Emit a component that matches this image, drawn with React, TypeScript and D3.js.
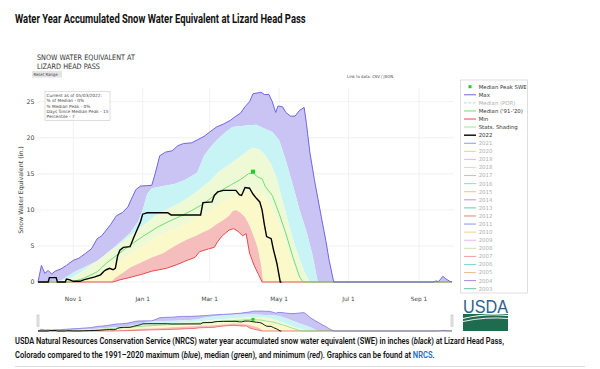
import React, { useLayoutEffect, useRef, useState } from 'react';
import * as d3 from 'd3';

type Pt = [number, number];

// day of water year (0 = Oct 1, 2021), snow water equivalent in inches
const maxSwe: Pt[] = [
  [0, 0], [3, 2.3], [6, 1.2], [9, 1.6], [12, 1.1], [15, 1.5], [20, 1.8], [25, 2.3], [31, 3.0],
  [36, 3.3], [42, 4.0], [47, 4.6], [52, 6.0], [56, 6.4], [60, 7.2], [64, 8.0], [69, 9.2], [74, 9.6],
  [79, 10.4], [83, 11.8], [86, 12.8], [90, 13.3], [100, 13.4], [103, 15.0], [107, 17.5], [112, 18.0],
  [118, 18.2], [123, 18.9], [128, 19.2], [135, 19.3], [140, 19.7], [146, 20.2], [151, 20.8], [157, 21.5],
  [163, 21.9], [169, 22.4], [174, 23.0], [178, 23.4], [182, 24.3], [186, 25.0], [189, 26.1], [196, 26.3],
  [199, 26.0], [203, 26.0], [206, 25.0], [209, 23.5], [211, 24.4], [215, 24.3], [218, 23.5], [222, 23.0],
  [226, 23.0], [230, 23.8], [234, 24.2], [236, 22.0], [239, 18.0], [243, 14.2], [249, 9.1], [253, 5.8],
  [256, 3.0], [260, 0], [348, 0], [350, 0.15], [352, 0.05], [354, 0.4], [356, 0.8], [358, 0.5],
  [360, 0.3], [362, 0.1], [364, 0],
];

const p90Swe: Pt[] = [
  [0, 0], [20, 0.2], [31, 1.3], [40, 2.0], [52, 2.9], [60, 3.9], [69, 5.1], [81, 6.8], [88, 8.4],
  [92, 10.0], [96, 12.2], [100, 13.0], [110, 13.3], [120, 13.6], [130, 14.2], [140, 15.2], [146, 17.5],
  [152, 18.8], [158, 19.8], [165, 20.8], [171, 21.5], [183, 21.7], [192, 21.8], [200, 21.2], [206, 20.8],
  [212, 19.7], [218, 16.8], [224, 13.5], [230, 10.0], [236, 7.0], [241, 4.0], [246, 0], [364, 0],
];

const p70Swe: Pt[] = [
  [0, 0], [20, 0.1], [31, 0.7], [40, 1.6], [52, 2.9], [60, 3.9], [70, 5.0], [80, 6.3], [92, 7.8],
  [105, 9.4], [115, 10.2], [125, 11.0], [135, 12.0], [145, 13.2], [151, 14.0], [160, 15.4], [170, 16.5],
  [180, 17.6], [188, 18.6], [195, 18.4], [200, 17.5], [205, 16.3], [210, 14.3], [214, 11.8], [218, 9.5],
  [222, 7.2], [226, 5.0], [230, 3.2], [234, 1.5], [239, 0], [364, 0],
];

const p30Swe: Pt[] = [
  [0, 0], [30, 0], [40, 0.2], [52, 0.9], [60, 1.8], [70, 2.8], [80, 3.8], [92, 5.0], [105, 6.3],
  [115, 7.0], [125, 7.7], [135, 8.5], [145, 9.4], [151, 10.0], [160, 10.9], [170, 11.7], [178, 12.3],
  [185, 12.8], [192, 12.6], [198, 12.0], [204, 10.8], [209, 9.2], [213, 7.6], [217, 5.8], [221, 3.8],
  [225, 2.0], [229, 0.6], [232, 0], [364, 0],
];

const p10Swe: Pt[] = [
  [0, 0], [64, 0], [68, 0.6], [75, 1.3], [81, 2.0], [92, 2.8], [100, 3.4], [110, 4.0], [118, 4.8],
  [125, 5.4], [131, 5.9], [139, 6.4], [145, 6.9], [151, 7.3], [157, 8.0], [163, 8.6], [168, 9.2],
  [171, 9.8], [174, 10.0], [178, 9.6], [182, 9.0], [186, 7.8], [190, 6.2], [193, 4.8], [196, 2.5],
  [198, 0], [364, 0],
];

const minSwe: Pt[] = [
  [0, 0], [66, 0], [72, 0.3], [80, 0.6], [92, 1.1], [100, 1.5], [113, 1.9], [122, 2.4], [131, 3.0],
  [138, 3.4], [142, 4.2], [150, 4.6], [155, 4.8], [158, 5.6], [162, 6.4], [168, 7.2], [172, 7.4],
  [176, 7.0], [180, 6.4], [183, 6.7], [186, 4.0], [190, 2.3], [194, 1.0], [197, 0], [364, 0],
];

const medianSwe: Pt[] = [
  [0, 0], [30, 0], [40, 0.5], [52, 1.4], [60, 2.6], [70, 3.8], [80, 5.0], [92, 6.3], [105, 7.6],
  [115, 8.4], [125, 9.1], [135, 9.9], [145, 10.8], [151, 11.5], [160, 12.6], [170, 13.5], [178, 14.2],
  [185, 15.0], [189, 15.1], [193, 14.6], [197, 14.3], [200, 13.2], [206, 12.0], [212, 9.5], [218, 6.7],
  [224, 3.5], [230, 0.7], [233, 0], [364, 0],
];

const swe2022: Pt[] = [
  [0, 0], [9, 0], [10, 0.6], [16, 0.6], [17, 0], [24, 0], [25, 0.4], [28, 0.3], [31, 0.1], [37, 0.1],
  [40, 0.3], [45, 0.5], [50, 0.7], [55, 1.0], [58, 1.5], [60, 1.7], [63, 1.9], [66, 1.7], [68, 1.9],
  [70, 3.6], [72, 4.4], [75, 4.8], [81, 4.9], [84, 6.1], [87, 7.2], [90, 8.3], [92, 9.4], [96, 9.6],
  [114, 9.6], [117, 9.3], [143, 9.3], [145, 11.0], [153, 11.1], [155, 12.0], [158, 12.5], [163, 12.7],
  [174, 12.7], [177, 12.1], [179, 12.0], [182, 13.1], [186, 13.0], [189, 12.2], [192, 11.6], [195, 11.1],
  [197, 10.0], [199, 8.0], [201, 6.3], [205, 6.0], [207, 4.5], [210, 2.6], [213, 0], [214, 0],
];

const medianPeak: Pt = [189, 15.3];

const tickDates = ['2021-11-01', '2022-01-01', '2022-03-01', '2022-05-01', '2022-07-01', '2022-09-01'];
const tickLabels = ['Nov 1', 'Jan 1', 'Mar 1', 'May 1', 'Jul 1', 'Sep 1'];
const yTicks = [0, 5, 10, 15, 20, 25];

const infoLines = [
  'Current as of 05/03/2022:',
  '% of Median - 0%',
  '% Median Peak - 0%',
  'Days Since Median Peak - 15',
  'Percentile - 7',
];

const legendLabels = [
  'Median Peak SWE', 'Max', 'Median (POR)', "Median ('91-'20)", 'Min', 'Stats. Shading', '2022',
  '2021', '2020', '2019', '2018', '2017', '2016', '2015', '2014', '2013', '2012', '2011', '2010',
  '2009', '2008', '2007', '2006', '2005', '2004', '2003',
];
const legendHidden = ['Median (POR)', '2021', '2020', '2019', '2018', '2017', '2016', '2015', '2014',
  '2013', '2012', '2011', '2010', '2009', '2008', '2007', '2006', '2005', '2004', '2003'];

const legendColors: Record<string, string> = {
  'Median Peak SWE': '#22cc22', Max: '#6f67e0', 'Median (POR)': '#a8e8a8', "Median ('91-'20)": '#72de72',
  Min: '#e64c4c', 'Stats. Shading': '#cdf3c8', '2022': '#000',
  '2021': '#8f95ea', '2020': '#f6cd8c', '2019': '#f2b0ea', '2018': '#cfe7b0', '2017': '#f2a8ae',
  '2016': '#7fdcdc', '2015': '#f5b98a', '2014': '#bb92ea', '2013': '#6ccba6', '2012': '#ea7e7e',
  '2011': '#8499f0', '2010': '#f2cf80', '2009': '#f2b2f0', '2008': '#c8e4a8', '2007': '#f29a9a',
  '2006': '#7fd6dc', '2005': '#f3bb8c', '2004': '#ae86e6', '2003': '#62c39e',
};

const fills = {
  lav: '#c9c4f4', cyan: '#c9f4f5', green: '#eef9d6', yellow: '#fbf8c9', pink: '#f6bdbd',
};

const start = new Date(2021, 9, 1);
const end = new Date(2022, 8, 30);
const parse = d3.timeParse('%Y-%m-%d');
const toDate = (d: number) => d3.timeDay.offset(start, d);

const x = d3.scaleTime().domain([start, end]).range([38, 452]);
const y = d3.scaleLinear().domain([0, 25]).range([282, 101.7]);
const ym = d3.scaleLinear().domain([0, 27]).range([331, 310.5]);

const chartFont = '"DejaVu Sans", Verdana, sans-serif';
const headFont = '"Roboto", "Open Sans", sans-serif';

// squeeze a text line horizontally so it spans `width` px (condensed web font look)
function FitText({ x0, y0, width, size, weight, children }:
  { x0: number; y0: number; width: number; size: number; weight: number; children: React.ReactNode }) {
  const ref = useRef<SVGTextElement>(null);
  const [k, setK] = useState(1);
  useLayoutEffect(() => {
    if (ref.current) {
      const len = ref.current.getComputedTextLength();
      if (len > 0) setK(width / len);
    }
  }, [width]);
  return (
    <g transform={`translate(${x0},${y0}) scale(${k},1)`}>
      <text ref={ref} x={0} y={0} fontFamily={headFont} fontWeight={weight} fontSize={size} fill="#111">
        {children}
      </text>
    </g>
  );
}

function Series({ yScale, small }: { yScale: d3.ScaleLinear<number, number>; small?: boolean }) {
  const line = d3.line<Pt>().x(d => x(toDate(d[0]))).y(d => yScale(d[1]));
  const band = (top: Pt[], bottom: Pt[]) =>
    line(top) + 'L' + (line([...bottom].reverse()) as string).slice(1) + 'Z';
  const w = small ? 0.7 : 1;
  return (
    <g>
      <path d={band(maxSwe, p90Swe)} fill={fills.lav} />
      <path d={band(p90Swe, p70Swe)} fill={fills.cyan} />
      <path d={band(p70Swe, p30Swe)} fill={fills.green} />
      <path d={band(p30Swe, p10Swe)} fill={fills.yellow} />
      <path d={band(p10Swe, minSwe)} fill={fills.pink} />
      <path d={line(minSwe) as string} fill="none" stroke="#e64c4c" strokeWidth={w} />
      <path d={line(medianSwe) as string} fill="none" stroke="#72de72" strokeWidth={w} />
      <path d={line(maxSwe) as string} fill="none" stroke="#6f67e0" strokeWidth={w} />
      <path d={line(swe2022) as string} fill="none" stroke="#000" strokeWidth={small ? 0.9 : 1.4} />
      <rect x={x(toDate(medianPeak[0])) - (small ? 1.5 : 2)} y={yScale(medianPeak[1]) - (small ? 1.5 : 2)}
        width={small ? 3 : 4} height={small ? 3 : 4} fill="#22cc22" />
    </g>
  );
}

function UsdaLogo() {
  return (
    <g>
      <text x={463} y={312.5} fontFamily='"Liberation Sans", Arial, sans-serif' fontSize={19}
        fill="#2d5f8f" textLength={45} lengthAdjust="spacingAndGlyphs">USDA</text>
      <rect x={463} y={314} width={45} height={17} fill="#1f6b4f" />
      <path d="M463,318.5 Q485,313 508,315.5" fill="none" stroke="#fff" strokeWidth={1.1} />
      <path d="M463,321.5 Q486,316.5 508,318.5" fill="none" stroke="#fff" strokeWidth={0.9} />
    </g>
  );
}

export default function App() {
  return (
    <svg width={600} height={369} style={{ position: 'absolute', left: 0, top: 0, background: '#fff' }}>
      <FitText x0={15} y0={23} width={291} size={12} weight={700}>
        Water Year Accumulated Snow Water Equivalent at Lizard Head Pass
      </FitText>

      <text x={37} y={59.5} fontFamily={chartFont} fontSize={7.5} fill="#333" textLength={98} lengthAdjust="spacingAndGlyphs">
        SNOW WATER EQUIVALENT AT
      </text>
      <text x={37} y={68.5} fontFamily={chartFont} fontSize={7.5} fill="#333" textLength={63} lengthAdjust="spacingAndGlyphs">
        LIZARD HEAD PASS
      </text>
      <rect x={32} y={71} width={30} height={6.5} fill="#e4e4e4" />
      <text x={33.5} y={76} fontFamily={chartFont} fontSize={4.3} fill="#444" textLength={24} lengthAdjust="spacingAndGlyphs">
        Reset Range
      </text>
      <text x={347} y={78} fontFamily={chartFont} fontSize={4} fill="#444" textLength={46} lengthAdjust="spacingAndGlyphs">
        Link to data: CSV / JSON
      </text>

      {/* grid */}
      {yTicks.map(t => (
        <line key={'gy' + t} x1={38} x2={454} y1={y(t)} y2={y(t)} stroke="#eceef2" strokeWidth={0.8} />
      ))}
      {tickDates.map(t => (
        <line key={'gx' + t} x1={x(parse(t) as Date)} x2={x(parse(t) as Date)} y1={88} y2={282}
          stroke="#eceef2" strokeWidth={0.8} />
      ))}

      <Series yScale={y} />

      {yTicks.map(t => (
        <text key={'ty' + t} x={34.5} y={y(t) + 2.2} textAnchor="end" fontFamily={chartFont} fontSize={6.3} fill="#444">
          {t}
        </text>
      ))}
      {tickDates.map((t, i) => (
        <text key={'tx' + t} x={x(parse(t) as Date)} y={300.5} textAnchor="middle" fontFamily={chartFont}
          fontSize={5.8} fill="#444">
          {tickLabels[i]}
        </text>
      ))}
      <text transform="translate(23,190) rotate(-90)" textAnchor="middle" fontFamily={chartFont} fontSize={6.3} fill="#444">
        Snow Water Equivalent (in.)
      </text>

      {/* info box */}
      <rect x={45} y={91.5} width={65} height={29} fill="#fff" stroke="#c8c8c8" strokeWidth={0.6} />
      {infoLines.map((s, i) => (
        <text key={s} x={46.5} y={96.8 + i * 5.4} fontFamily={chartFont} fontSize={4.3} fill="#444">{s}</text>
      ))}

      {/* legend */}
      <rect x={460.5} y={80} width={67} height={213} fill="#fff" stroke="#d0d0d0" strokeWidth={0.7} />
      {legendLabels.map((s, i) => {
        const ly = 86.7 + i * 8.08;
        const hidden = legendHidden.includes(s);
        const c = legendColors[s];
        return (
          <g key={s}>
            {s === 'Median Peak SWE' ? (
              <rect x={468.5} y={ly - 1.5} width={3} height={3} fill={c} />
            ) : (
              <line x1={464} x2={476} y1={ly} y2={ly} stroke={c}
                strokeWidth={s === '2022' ? 1.4 : s === 'Stats. Shading' ? 2 : 1}
                strokeDasharray={s === 'Median (POR)' ? '2.5,2' : undefined} />
            )}
            <text x={478.7} y={ly + 1.9} fontFamily={chartFont} fontSize={5.4}
              fill={hidden ? '#b0b0b0' : '#333'}>{s}</text>
          </g>
        );
      })}

      {/* range slider */}
      <Series yScale={ym} small />
      <rect x={37} y={315} width={2} height={11.5} fill="#eee" stroke="#aaa" strokeWidth={0.5} />
      <rect x={451} y={315} width={2} height={11.5} fill="#eee" stroke="#aaa" strokeWidth={0.5} />

      <UsdaLogo />

      <FitText x0={15} y0={344} width={490} size={9} weight={600}>
        USDA Natural Resources Conservation Service (NRCS) water year accumulated snow water equivalent (SWE) in inches (<tspan fontStyle="italic">black</tspan>) at Lizard Head Pass,
      </FitText>
      <FitText x0={15} y0={358} width={420} size={9} weight={600}>
        Colorado compared to the 1991–2020 maximum (<tspan fontStyle="italic">blue</tspan>), median (<tspan fontStyle="italic">green</tspan>), and minimum (<tspan fontStyle="italic">red</tspan>). Graphics can be found at <tspan fill="#1a6fc0">NRCS</tspan>.
      </FitText>
      <line x1={15} x2={585} y1={366.5} y2={366.5} stroke="#ddd" strokeWidth={1} />
    </svg>
  );
}
